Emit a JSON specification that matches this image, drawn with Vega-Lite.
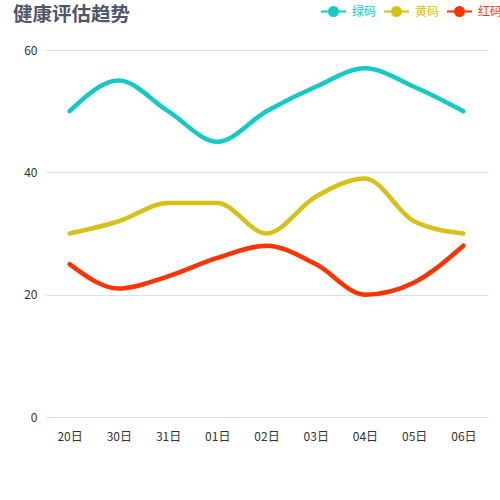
{
  "$schema": "https://vega.github.io/schema/vega-lite/v6.json",
  "autosize": "none",
  "width": 443,
  "height": 367,
  "padding": {"left": 45, "top": 50, "right": 12, "bottom": 83},
  "background": "white",
  "config": {
    "font": "Noto Sans CJK SC",
    "view": {"stroke": null}
  },
  "title": {
    "text": "健康评估趋势",
    "anchor": "start",
    "frame": "group",
    "font": "Noto Sans CJK SC",
    "fontSize": 19.5,
    "fontWeight": "bold",
    "color": "#50566b",
    "dx": -32,
    "offset": -27
  },
  "data": {
    "values": [
      {"date": "20日", "series": "绿码", "value": 50},
      {"date": "30日", "series": "绿码", "value": 55},
      {"date": "31日", "series": "绿码", "value": 50},
      {"date": "01日", "series": "绿码", "value": 45},
      {"date": "02日", "series": "绿码", "value": 50},
      {"date": "03日", "series": "绿码", "value": 54},
      {"date": "04日", "series": "绿码", "value": 57},
      {"date": "05日", "series": "绿码", "value": 54},
      {"date": "06日", "series": "绿码", "value": 50},
      {"date": "20日", "series": "黄码", "value": 30},
      {"date": "30日", "series": "黄码", "value": 32},
      {"date": "31日", "series": "黄码", "value": 35},
      {"date": "01日", "series": "黄码", "value": 35},
      {"date": "02日", "series": "黄码", "value": 30},
      {"date": "03日", "series": "黄码", "value": 36},
      {"date": "04日", "series": "黄码", "value": 39},
      {"date": "05日", "series": "黄码", "value": 32},
      {"date": "06日", "series": "黄码", "value": 30},
      {"date": "20日", "series": "红码", "value": 25},
      {"date": "30日", "series": "红码", "value": 21},
      {"date": "31日", "series": "红码", "value": 23},
      {"date": "01日", "series": "红码", "value": 26},
      {"date": "02日", "series": "红码", "value": 28},
      {"date": "03日", "series": "红码", "value": 25},
      {"date": "04日", "series": "红码", "value": 20},
      {"date": "05日", "series": "红码", "value": 22},
      {"date": "06日", "series": "红码", "value": 28}
    ]
  },
  "mark": {"type": "line", "interpolate": "monotone", "strokeWidth": 4.5, "strokeCap": "round", "strokeJoin": "round"},
  "encoding": {
    "x": {
      "field": "date",
      "type": "ordinal",
      "sort": null,
      "scale": {"type": "point", "padding": 0.5},
      "axis": {
        "title": null,
        "labelAngle": 0,
        "domain": false,
        "ticks": false,
        "grid": false,
        "labelPadding": 14,
        "labelFontSize": 12,
        "labelColor": "#333333"
      }
    },
    "y": {
      "field": "value",
      "type": "quantitative",
      "scale": {"domain": [0, 60]},
      "axis": {
        "title": null,
        "values": [0, 20, 40, 60],
        "domain": false,
        "ticks": false,
        "gridColor": "#e0e0e0",
        "labelPadding": 8,
        "labelFontSize": 12,
        "labelColor": "#333333"
      }
    },
    "color": {
      "field": "series",
      "type": "nominal",
      "sort": ["绿码", "黄码", "红码"],
      "scale": {"domain": ["绿码", "黄码", "红码"], "range": ["#14cac6", "#d5c117", "#ff3300"]},
      "legend": {
        "title": null,
        "orient": "none",
        "direction": "horizontal",
        "legendX": 275,
        "legendY": -52,
        "symbolType": "M-1,0H-0.38M0.38,0H1M-0.36,0A0.36,0.36 0 1,1 0.36,0A0.36,0.36 0 1,1 -0.36,0Z",
        "symbolSize": 625,
        "symbolStrokeWidth": 2,
        "labelFontSize": 12,
        "labelOffset": 5,
        "columnPadding": 3,
        "encode": {
          "symbols": {"update": {"fill": {"scale": "color", "field": "value"}, "stroke": {"scale": "color", "field": "value"}, "opacity": {"value": 1}}},
          "labels": {"update": {"fill": {"scale": "color", "field": "value"}}}
        }
      }
    }
  }
}
